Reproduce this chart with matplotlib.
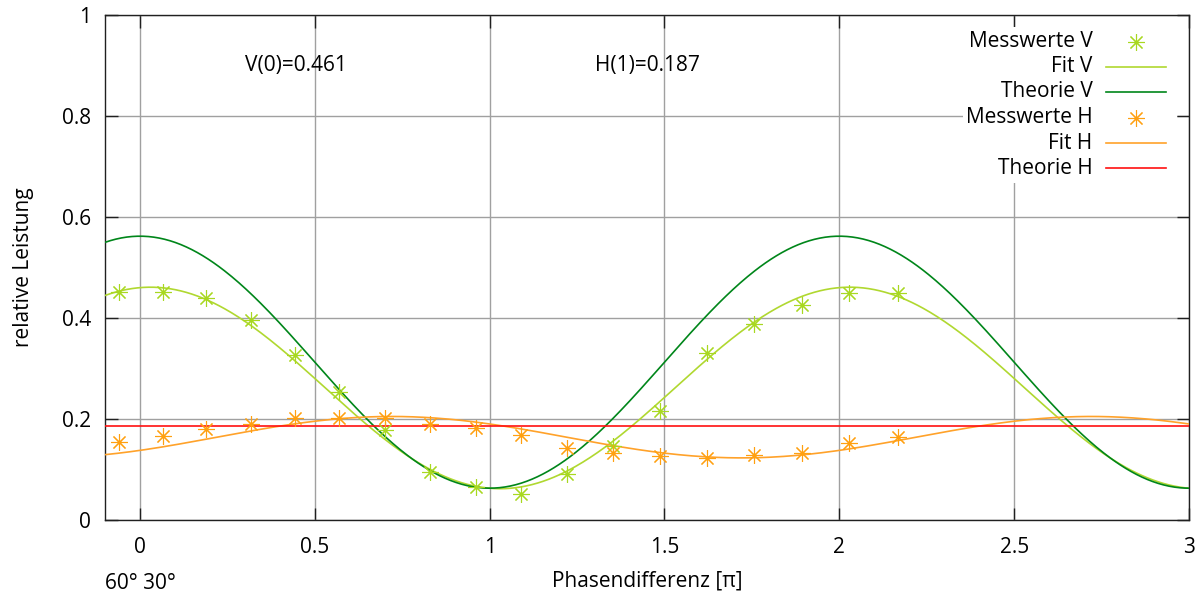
import numpy as np
import matplotlib
matplotlib.use("Agg")
import matplotlib.pyplot as plt
from matplotlib.patches import Rectangle

plt.rcParams['font.family'] = ['Open Sans', 'DejaVu Sans']

# Measured phase differences (in units of pi) and relative power
phase = [-0.059, 0.067, 0.190, 0.317, 0.443, 0.569, 0.700, 0.829, 0.960,
         1.089, 1.222, 1.352, 1.486, 1.622, 1.755, 1.892, 2.029, 2.167]
mess_v = [0.452, 0.452, 0.439, 0.396, 0.327, 0.254, 0.178, 0.096, 0.066,
          0.051, 0.091, 0.147, 0.216, 0.330, 0.388, 0.426, 0.450, 0.450]
mess_h = [0.155, 0.167, 0.180, 0.190, 0.201, 0.201, 0.201, 0.190, 0.182,
          0.168, 0.142, 0.132, 0.127, 0.123, 0.129, 0.133, 0.152, 0.165]

# Fitted model: offset + amplitude * cos(pi * (x - shift))
fit_v_params = (0.2615, 0.1995, 0.03)
fit_h_params = (0.164, 0.041, 0.72)
theo_v_params = (0.3125, 0.2495, 0.0)
theo_h_value = 0.187

x_ticks = [0, 0.5, 1, 1.5, 2, 2.5, 3]
x_tick_labels = ['0', '0.5', '1', '1.5', '2', '2.5', '3']
y_ticks = [0, 0.2, 0.4, 0.6, 0.8, 1]
y_tick_labels = ['0', '0.2', '0.4', '0.6', '0.8', '1']


def cos_model(x, params):
    a, b, s = params
    return a + b * np.cos(np.pi * (x - s))


c_v_pts = '#a8d820'
c_v_fit = '#b0d830'
c_v_theo = '#00861a'
c_h_pts = '#ffa010'
c_h_fit = '#ffa22a'
c_h_theo = '#ff1010'

fig = plt.figure(figsize=(12.02, 6.02), dpi=100)
ax = fig.add_axes([105 / 1202, 82 / 602, 1084 / 1202, 505 / 602])

xs = np.linspace(-0.1, 3.0, 600)
fs = 15
star = (8, 2, 0)
ms = 12
mew = 0.8

series = []
series.append(('Messwerte V', ax.plot(phase, mess_v, linestyle='none', marker=star,
                                      markersize=ms, markeredgewidth=mew,
                                      color=c_v_pts, zorder=4)[0]))
series.append(('Fit V', ax.plot(xs, cos_model(xs, fit_v_params), color=c_v_fit,
                                lw=1.2, zorder=3)[0]))
series.append(('Theorie V', ax.plot(xs, cos_model(xs, theo_v_params), color=c_v_theo,
                                    lw=1.2, zorder=3)[0]))
series.append(('Messwerte H', ax.plot(phase, mess_h, linestyle='none', marker=star,
                                      markersize=ms, markeredgewidth=mew,
                                      color=c_h_pts, zorder=4)[0]))
series.append(('Fit H', ax.plot(xs, cos_model(xs, fit_h_params), color=c_h_fit,
                                lw=1.2, zorder=3)[0]))
series.append(('Theorie H', ax.plot(xs, np.full_like(xs, theo_h_value), color=c_h_theo,
                                    lw=1.2, zorder=3)[0]))

ax.set_xlim(-0.1, 3.0)
ax.set_ylim(0, 1)
ax.set_xticks(x_ticks)
ax.set_xticklabels(x_tick_labels)
ax.set_yticks(y_ticks)
ax.set_yticklabels(y_tick_labels)
ax.grid(True, color='#a0a0a0', lw=1.0, zorder=0)
ax.tick_params(direction='in', length=9, width=1.0, color='#202020',
               top=True, right=True, labelsize=fs, pad=10)
ax.tick_params(axis='x', pad=12)
for sp in ax.spines.values():
    sp.set_color('#202020')
    sp.set_linewidth(1.0)

ax.set_xlabel('Phasendifferenz [π]', fontsize=fs, labelpad=9)
ax.set_ylabel('relative Leistung', fontsize=fs, labelpad=20)

ax.text(0.3, 0.9, 'V(0)=0.461', fontsize=fs, ha='left', va='center')
ax.text(1.3, 0.9, 'H(1)=0.187', fontsize=fs, ha='left', va='center')
ax.text(0.0, -0.126, '60° 30°', fontsize=fs, ha='left', va='center',
        transform=ax.transAxes)

# Key: white panel with right-aligned labels and samples to their right
ax.add_patch(Rectangle((0.7915, 0.667), 0.1975, 0.309, transform=ax.transAxes,
                       facecolor='white', edgecolor='none', zorder=5))
row_y = [0.9471, 0.8976, 0.8481, 0.7966, 0.7459, 0.6964]
for (label, artist), yy in zip(series, row_y):
    ax.text(0.9111, yy, label, fontsize=fs, ha='right', va='center',
            transform=ax.transAxes, zorder=6)
    if artist.get_linestyle() in ('None', 'none', ''):
        ax.plot([0.951], [yy], transform=ax.transAxes, linestyle='none',
                marker=star, markersize=ms, markeredgewidth=mew,
                color=artist.get_color(), zorder=6, clip_on=False)
    else:
        ax.plot([0.9234, 0.9788], [yy, yy], transform=ax.transAxes,
                color=artist.get_color(), lw=artist.get_linewidth(),
                zorder=6, clip_on=False)

fig.savefig('out.png', dpi=100)
